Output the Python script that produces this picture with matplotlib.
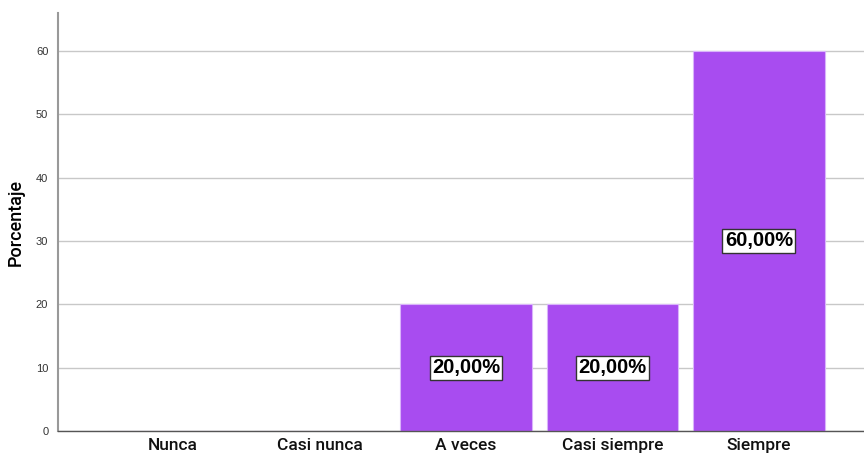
import numpy as np
import matplotlib.pyplot as plt

categories = ['Nunca', 'Casi nunca', 'A veces', 'Casi siempre', 'Siempre']
percentages = [0, 0, 20, 20, 60]
bar_labels = ['', '', '20,00%', '20,00%', '60,00%']
y_ticks = [0, 10, 20, 30, 40, 50, 60]

plt.rcParams['font.family'] = ['Liberation Sans', 'DejaVu Sans']

fig = plt.figure(figsize=(8.64, 4.54), dpi=100)
ax = fig.add_axes([58 / 864, 23 / 454, 1 - 58 / 864, 418 / 454])

x = np.arange(len(categories))
bars = ax.bar(x, percentages, width=0.9, color='#a84cf0', edgecolor='#d9b3fb',
              linewidth=0.8, zorder=2)

for xi, val, lab in zip(x, percentages, bar_labels):
    if lab:
        ax.text(xi, val / 2, lab, ha='center', va='center', fontsize=14.5,
                fontweight='bold', color='black', zorder=3,
                bbox=dict(boxstyle='square,pad=0.12', facecolor='white',
                          edgecolor='#333333', linewidth=1))

ax.set_xlim(-0.785, 4.717)
ax.set_ylim(0, 66)
ax.set_yticks(y_ticks)
ax.set_xticks(x)
ax.set_xticklabels(categories, fontsize=12.5, color='#111111',
                   family=['Roboto', 'DejaVu Sans'], fontweight='medium')
ax.tick_params(axis='y', labelsize=8, length=0, pad=7, colors='#333333')
ax.tick_params(axis='x', length=0, pad=5)
ax.set_ylabel('Porcentaje', fontsize=13, family=['Roboto', 'DejaVu Sans'],
              fontweight='medium')
ax.yaxis.set_label_coords(-0.041, 0.5)

ax.yaxis.grid(True, color='#c8c8c8', linewidth=1, zorder=0)
ax.set_axisbelow(True)
for s in ['top', 'right']:
    ax.spines[s].set_visible(False)
ax.spines['left'].set_color('#999999')
ax.spines['left'].set_linewidth(1.5)
ax.spines['bottom'].set_color('#555555')
ax.spines['bottom'].set_linewidth(1)

fig.savefig('out.png', dpi=100)
